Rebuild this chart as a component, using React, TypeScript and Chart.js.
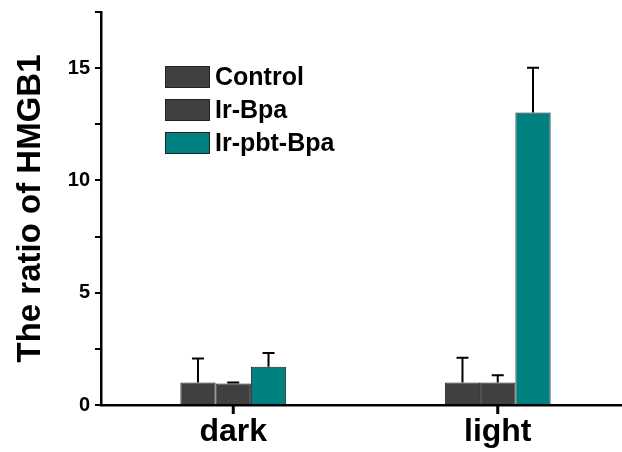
import React, { useEffect, useRef } from "react";
import { Chart, registerables } from "chart.js";

Chart.register(...registerables);

const categories = ["dark", "light"];
const seriesNames = ["Control", "Ir-Bpa", "Ir-pbt-Bpa"];
const controlValues = [1.0, 1.0];
const controlErrors = [1.07, 1.1];
const irBpaValues = [0.96, 1.0];
const irBpaErrors = [0.04, 0.33];
const pbtValues = [1.7, 13.02];
const pbtErrors = [0.62, 2.0];
const yTickLabels = [0, 5, 10, 15];

const FONT = "'Liberation Sans', Arial, sans-serif";
const DARK = "#404040";
const TEAL = "#008080";

const errorBarPlugin = {
  id: "errorBars",
  afterDraw(chart: any) {
    const ctx = chart.ctx;
    const y = chart.scales.y;
    const xs = chart.scales.x;
    ctx.save();
    ctx.strokeStyle = "#000";
    ctx.lineWidth = 2;
    chart.data.datasets.forEach((ds: any, di: number) => {
      const meta = chart.getDatasetMeta(di);
      meta.data.forEach((bar: any, i: number) => {
        const v = ds.data[i];
        const e = ds.errors[i];
        const bx = bar.x;
        const yTop = y.getPixelForValue(v + e);
        const yBase = y.getPixelForValue(v);
        ctx.beginPath();
        ctx.moveTo(bx, yBase);
        ctx.lineTo(bx, yTop);
        ctx.moveTo(bx - 6, yTop);
        ctx.lineTo(bx + 6, yTop);
        ctx.stroke();
      });
    });
    // category tick marks at the group centres
    const base = y.getPixelForValue(0);
    ctx.lineWidth = 3;
    categories.forEach((_, i) => {
      const px = xs.getPixelForTick(i);
      ctx.beginPath();
      ctx.moveTo(px, base);
      ctx.lineTo(px, base + 9);
      ctx.stroke();
    });
    ctx.restore();
  },
};

const legendPlugin = {
  id: "innerLegend",
  afterDraw(chart: any) {
    const ctx = chart.ctx;
    const area = chart.chartArea;
    const left = area.left + 64;
    const top = area.top + 54;
    ctx.save();
    ctx.font = `bold 25px ${FONT}`;
    ctx.textBaseline = "middle";
    chart.data.datasets.forEach((ds: any, i: number) => {
      const by = top + i * 33;
      ctx.fillStyle = ds.backgroundColor;
      ctx.fillRect(left, by, 45, 22);
      ctx.strokeStyle = "#222";
      ctx.lineWidth = 1;
      ctx.strokeRect(left + 0.5, by + 0.5, 44, 21);
      ctx.fillStyle = "#000";
      ctx.fillText(ds.label, left + 50, by + 12);
    });
    ctx.restore();
  },
};

export default function App() {
  const ref = useRef<HTMLCanvasElement>(null);
  useEffect(() => {
    if (!ref.current) return;
    const mk = (label: string, data: number[], errors: number[], color: string) => ({
      label,
      data,
      errors,
      backgroundColor: color,
      borderColor: "#222",
      borderWidth: 1,
      barPercentage: 1,
      categoryPercentage: 0.4,
    });
    const chart = new Chart(ref.current, {
      type: "bar",
      data: {
        labels: categories,
        datasets: [
          mk(seriesNames[0], controlValues, controlErrors, DARK),
          mk(seriesNames[1], irBpaValues, irBpaErrors, DARK),
          mk(seriesNames[2], pbtValues, pbtErrors, TEAL),
        ] as any,
      },
      options: {
        animation: false,
        responsive: false,
        events: [],
        layout: { padding: { top: 12, right: 2, left: 0, bottom: 0 } },
        plugins: { legend: { display: false }, tooltip: { enabled: false } },
        scales: {
          x: {
            grid: { display: false },
            border: { display: true, color: "#000", width: 2.5 },
            ticks: {
              color: "#000",
              font: { family: FONT, size: 32, weight: "bold" },
              padding: 0,
            },
            afterFit(scale: any) {
              scale.height = 47;
              scale.paddingLeft = 0;
              scale.paddingRight = 0;
            },
          },
          y: {
            min: 0,
            max: 17.5,
            grid: {
              display: true,
              drawOnChartArea: false,
              drawTicks: true,
              tickLength: 6,
              color: "#000",
              lineWidth: 2,
            },
            border: { display: true, color: "#000", width: 2.5 },
            ticks: {
              stepSize: 2.5,
              color: "#000",
              padding: 5,
              font: { family: FONT, size: 20, weight: "bold" },
              callback: (v: any) => (yTickLabels.includes(Number(v)) ? String(v) : ""),
            },
            title: {
              display: true,
              text: "The ratio of HMGB1",
              color: "#000",
              font: { family: FONT, size: 33, weight: "bold" },
              padding: { top: 11, bottom: 0 },
            },
            afterFit(scale: any) {
              scale.width = 101;
              scale.paddingTop = 0;
              scale.paddingBottom = 0;
            },
          },
        },
      },
      plugins: [errorBarPlugin, legendPlugin],
    });
    return () => chart.destroy();
  }, []);
  return (
    <div style={{ position: "absolute", left: 0, top: 0, width: 622, height: 452, overflow: "hidden", background: "#fff" }}>
      <canvas ref={ref} width={632} height={452} style={{ display: "block" }} />
    </div>
  );
}
